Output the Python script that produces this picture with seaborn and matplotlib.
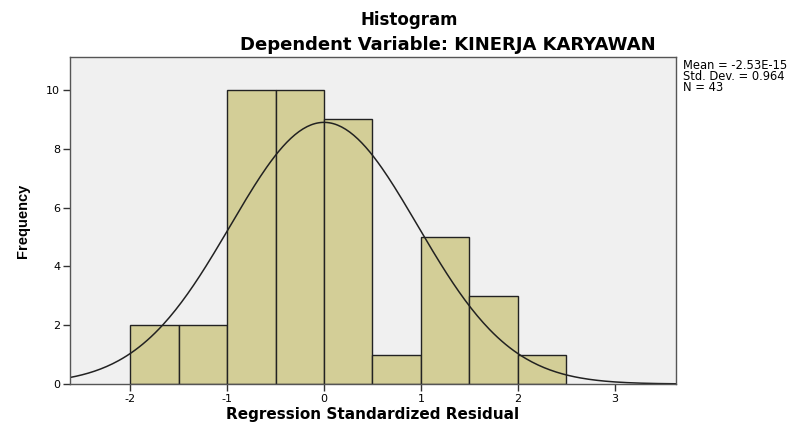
import numpy as np
import pandas as pd
import seaborn as sns
import matplotlib.pyplot as plt

# histogram data
bin_edges = [-2.0, -1.5, -1.0, -0.5, 0.0, 0.5, 1.0, 1.5, 2.0, 2.5]
counts = [2, 2, 10, 10, 9, 1, 5, 3, 1]
mean = -2.53e-15
std_dev = 0.964
n = 43

x_ticks = [-2, -1, 0, 1, 2, 3]
y_ticks = [0, 2, 4, 6, 8, 10]

centers = [(bin_edges[i] + bin_edges[i + 1]) / 2 for i in range(len(counts))]
df = pd.DataFrame({"residual": centers, "count": counts})

sns.set_style("white")
plt.rcParams['font.family'] = ['DejaVu Sans']
plt.rcParams['text.color'] = 'black'
plt.rcParams['axes.labelcolor'] = 'black'
plt.rcParams['xtick.color'] = 'black'
plt.rcParams['ytick.color'] = 'black'

fig = plt.figure(figsize=(8.11, 4.23), dpi=100)
ax = fig.add_axes([0.0863, 0.0922, 0.7472, 0.773])
ax.set_facecolor('#F0F0F0')

sns.histplot(data=df, x="residual", weights="count", bins=bin_edges,
             color='#D3CE97', edgecolor='#222222', linewidth=1.0, alpha=1, ax=ax)

# normal curve
width = bin_edges[1] - bin_edges[0]
xs = np.linspace(-2.62, 3.63, 300)
ys = n * width / (std_dev * np.sqrt(2 * np.pi)) * np.exp(-0.5 * ((xs - mean) / std_dev) ** 2)
sns.lineplot(x=xs, y=ys, color='#222222', linewidth=1.1, ax=ax)

ax.set_xlim(-2.62, 3.63)
ax.set_ylim(0, 11.12)
ax.set_xticks(x_ticks)
ax.set_xticklabels([str(t) for t in x_ticks])
ax.set_yticks(y_ticks)
ax.tick_params(axis='both', length=5, width=1, color='#333333', labelsize=8, direction='out',
               bottom=True, left=True, pad=2)
for s in ax.spines.values():
    s.set_color('#555555')
    s.set_linewidth(1.0)

ax.set_xlabel('Regression Standardized Residual', fontsize=11, fontweight='bold')
ax.xaxis.set_label_coords(0.5, -0.07)
ax.set_ylabel('Frequency', fontsize=10.5, fontweight='bold', labelpad=12,
              family=['Liberation Sans Narrow', 'Liberation Sans', 'DejaVu Sans'])

fig.text(0.505, 0.953, 'Histogram', ha='center', va='center', fontsize=12, fontweight='bold')
fig.text(0.552, 0.893, 'Dependent Variable: KINERJA KARYAWAN', ha='center', va='center',
         fontsize=13, fontweight='bold')

fig.text(0.842, 0.86, 'Mean = -2.53E-15\nStd. Dev. = 0.964\nN = 43', ha='left', va='top',
         fontsize=8.3, linespacing=0.78)

fig.savefig('out.png', dpi=100)
